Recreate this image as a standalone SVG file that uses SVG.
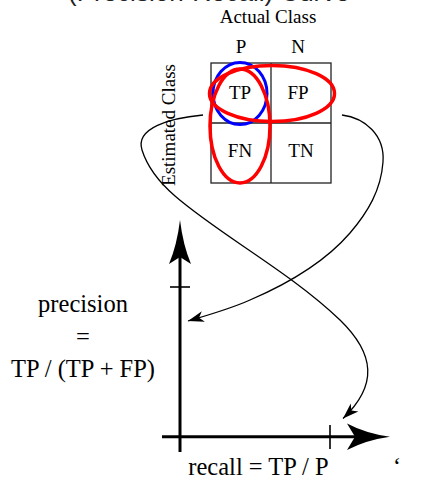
<svg xmlns="http://www.w3.org/2000/svg" width="447" height="480" viewBox="0 0 447 480">
<style>
  text { font-family: "Liberation Serif", "Times New Roman", serif; fill: #000; }
  .lbl { font-size: 19px; text-anchor: middle; }
  .big { font-size: 24.5px; text-anchor: middle; }
  .grid { fill: none; stroke: #222; stroke-width: 1.3; }
  .red { fill: none; stroke: #ff0000; stroke-width: 3.5; }
  .blue { fill: none; stroke: #0000ff; stroke-width: 3; }
  .curve { fill: none; stroke: #000; stroke-width: 1.3; }
  .axis { fill: none; stroke: #000; stroke-width: 3; }
  .tick { fill: none; stroke: #000; stroke-width: 1.6; }
</style>
<defs>
  <marker id="stealth" viewBox="-17 -6 18 12" refX="0" refY="0" markerWidth="18" markerHeight="12" markerUnits="userSpaceOnUse" orient="auto">
    <path d="M0,0 L-16,-5.5 L-11.5,0 L-16,5.5 Z" fill="#000"/>
  </marker>
</defs>
<rect width="447" height="480" fill="#fff"/>

<text id="title" x="68" y="1" style="font-family:'Liberation Sans',Arial,sans-serif;font-size:26px;fill:#222">(Precision-Recall) Curve</text>

<g id="matrix">
  <rect class="grid" x="211" y="63" width="120" height="120"/>
  <line class="grid" x1="271" y1="63" x2="271" y2="183"/>
  <line class="grid" x1="211" y1="123" x2="331" y2="123"/>
  <text class="lbl" x="268" y="23">Actual Class</text>
  <text class="lbl" x="241" y="53">P</text>
  <text class="lbl" x="298" y="53">N</text>
  <text class="lbl" transform="translate(175,125) rotate(-90)" x="0" y="0">Estimated Class</text>
  <text class="lbl" x="240" y="99">TP</text>
  <text class="lbl" x="298" y="99">FP</text>
  <text class="lbl" x="240" y="157">FN</text>
  <text class="lbl" x="301" y="157">TN</text>
</g>

<g id="highlights">
  <ellipse id="tp-circle" class="blue" cx="240" cy="93.5" rx="27" ry="31"/>
  <ellipse id="pred-pos" class="red" cx="272" cy="93.5" rx="62.5" ry="28"/>
  <ellipse id="actual-pos" class="red" cx="240" cy="126" rx="30" ry="57"/>
</g>

<g id="axes">
  <line class="axis" x1="180" y1="255" x2="180" y2="452"/>
  <path d="M180,220 Q183,245 191,264 L180,257 L169,264 Q177,245 180,220 Z" fill="#000"/>
  <line class="tick" x1="170" y1="287" x2="190" y2="287"/>
  <line class="axis" x1="162" y1="436.7" x2="357" y2="436.7"/>
  <path d="M390,436.7 Q366,440 347,450 L355,436.7 L347,423.4 Q366,433.4 390,436.7 Z" fill="#000"/>
  <line class="tick" x1="330" y1="425" x2="330" y2="449"/>
</g>

<g id="precision-label">
  <text class="big" x="83" y="312">precision</text>
  <text class="big" x="83" y="345">=</text>
  <text class="big" x="83" y="377">TP / (TP + FP)</text>
</g>

<g id="recall-label">
  <text class="big" x="258.5" y="475">recall = TP / P</text>
  <text x="393" y="474" style="font-size:24px">‘</text>
</g>

<g id="connectors">
  <path class="curve" marker-end="url(#stealth)" d="M203,115 C170,118 135,128 142,150 C148,169 160,183 175,196 C220,235 290,272 340,320 C375,354 378,385 343,418.5"/>
  <path class="curve" marker-end="url(#stealth)" d="M342,115 C365,118 385,135 383,162 C381,190 368,212 350,233 C325,262 285,285 250,300 C230,309 205,316 188,321"/>
</g>
</svg>
